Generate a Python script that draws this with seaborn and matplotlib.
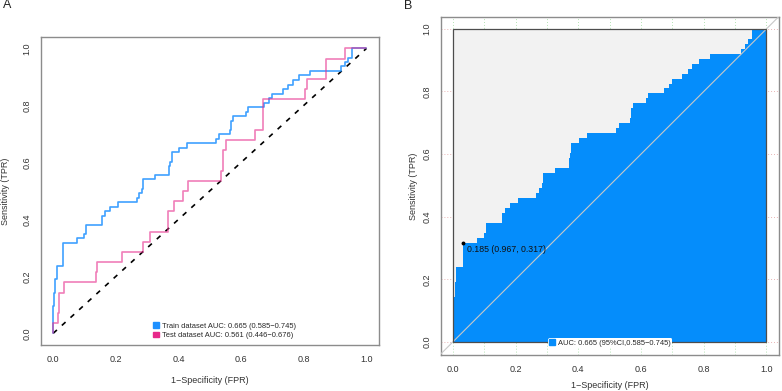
import matplotlib
matplotlib.use("Agg")
import matplotlib.pyplot as plt
import seaborn as sns
import pandas as pd
import numpy as np
from matplotlib.patches import Rectangle, Patch

# ---------------- data (ROC staircase vertices) ----------------
train_fpr = [0, 0, 0.003, 0.003, 0.007, 0.007, 0.011, 0.011, 0.032, 0.032, 0.077, 0.077,
             0.099, 0.099, 0.106, 0.106, 0.156, 0.156, 0.166, 0.166, 0.181, 0.181, 0.206, 0.206,
             0.266, 0.266, 0.274, 0.274, 0.284, 0.284, 0.287, 0.287, 0.326, 0.326, 0.370, 0.370,
             0.373, 0.373, 0.378, 0.378, 0.402, 0.402, 0.428, 0.428, 0.521, 0.521, 0.529, 0.529,
             0.564, 0.564, 0.569, 0.569, 0.574, 0.574, 0.615, 0.615, 0.622, 0.622, 0.673, 0.673,
             0.689, 0.689, 0.700, 0.700, 0.732, 0.732, 0.750, 0.750, 0.764, 0.764, 0.785, 0.785,
             0.821, 0.821, 0.920, 0.920, 0.931, 0.931, 0.941, 0.941, 0.955, 0.955, 1.0]
train_tpr = [0, 0.095, 0.095, 0.143, 0.143, 0.190, 0.190, 0.238, 0.238, 0.317, 0.317, 0.333,
             0.333, 0.349, 0.349, 0.381, 0.381, 0.413, 0.413, 0.429, 0.429, 0.444, 0.444, 0.460,
             0.460, 0.476, 0.476, 0.492, 0.492, 0.508, 0.508, 0.540, 0.540, 0.556, 0.556, 0.587,
             0.587, 0.603, 0.603, 0.635, 0.635, 0.651, 0.651, 0.667, 0.667, 0.683, 0.683, 0.698,
             0.698, 0.714, 0.714, 0.746, 0.746, 0.762, 0.762, 0.778, 0.778, 0.794, 0.794, 0.810,
             0.810, 0.825, 0.825, 0.841, 0.841, 0.857, 0.857, 0.873, 0.873, 0.889, 0.889, 0.905,
             0.905, 0.921, 0.921, 0.937, 0.937, 0.952, 0.952, 0.968, 0.968, 1.0, 1.0]

test_fpr = [0, 0, 0.016, 0.016, 0.019, 0.019, 0.035, 0.035, 0.138, 0.138, 0.141, 0.141,
            0.221, 0.221, 0.287, 0.287, 0.310, 0.310, 0.367, 0.367, 0.385, 0.385, 0.415, 0.415,
            0.431, 0.431, 0.537, 0.537, 0.543, 0.543, 0.553, 0.553, 0.644, 0.644, 0.670, 0.670,
            0.803, 0.803, 0.809, 0.809, 0.872, 0.872, 0.931, 0.931, 1.0]
test_tpr = [0, 0.036, 0.036, 0.071, 0.071, 0.143, 0.143, 0.179, 0.179, 0.214, 0.214, 0.250,
            0.250, 0.286, 0.286, 0.321, 0.321, 0.357, 0.357, 0.429, 0.429, 0.464, 0.464, 0.500,
            0.500, 0.536, 0.536, 0.571, 0.571, 0.643, 0.643, 0.679, 0.679, 0.714, 0.714, 0.821,
            0.821, 0.857, 0.857, 0.893, 0.893, 0.964, 0.964, 1.0, 1.0]

train_label = "Train dataset AUC: 0.665 (0.585\u22120.745)"
test_label = "Test dataset AUC: 0.561 (0.446\u22120.676)"
auc_label = "AUC: 0.665 (95%CI,0.585\u22120.745)"
best_point = (0.033, 0.317)
best_text = "0.185 (0.967, 0.317)"
ticks = [0.0, 0.2, 0.4, 0.6, 0.8, 1.0]
tick_labels = ["0.0", "0.2", "0.4", "0.6", "0.8", "1.0"]

# ---------------- style ----------------
sns.set_style("white")
plt.rcParams['font.family'] = ['Liberation Sans', 'DejaVu Sans']
plt.rcParams['axes.linewidth'] = 1.0

c_train = "#1E90FF"
c_test = "#E7298A"
c_fill = "#058DFB"

fig = plt.figure(figsize=(7.82, 3.91), dpi=100)

# ---------------- Panel A ----------------
axA = fig.add_axes([41/782, 1-345/391, 338/782, 308/391])
dfA = pd.DataFrame({"fpr": train_fpr, "tpr": train_tpr})
dfB = pd.DataFrame({"fpr": test_fpr, "tpr": test_tpr})
axA.plot([0, 1], [0, 1], ls=(0, (3, 4)), color="black", lw=1.2, zorder=2)
sns.lineplot(data=dfA, x="fpr", y="tpr", sort=False, estimator=None, ax=axA,
             color=c_train, lw=1.2, alpha=0.85, zorder=3)
sns.lineplot(data=dfB, x="fpr", y="tpr", sort=False, estimator=None, ax=axA,
             color=c_test, lw=1.2, alpha=0.6, zorder=4)
axA.set_xlim(-0.039, 1.04)
axA.set_ylim(-0.041, 1.04)
axA.set_xticks(ticks)
axA.set_xticklabels(tick_labels)
axA.set_yticks(ticks)
axA.set_yticklabels(tick_labels, rotation=90, va="center")
for s in axA.spines.values():
    s.set_color("#8C8C8C")
axA.tick_params(axis="both", labelsize=6.5, colors="#D0D0D0", labelcolor="#333333",
                length=3, width=0.6, direction="out", pad=4)
axA.set_xlabel("1\u2212Specificity (FPR)", fontsize=6.5, color="#333333", labelpad=9)
axA.set_ylabel("Sensitivity (TPR)", fontsize=6.5, color="#333333", labelpad=9)
h = [Patch(color=c_train, label=train_label), Patch(color=c_test, label=test_label)]
axA.legend(handles=h, loc="lower left", bbox_to_anchor=(0.315, 0.0), frameon=False,
           fontsize=5.4, handlelength=0.8, handleheight=0.8, handletextpad=0.4,
           labelspacing=0.25, borderpad=0.3)
fig.text(3/782, 1-5/391, "A", fontsize=9, va="center", ha="left", color="#222222")

# ---------------- Panel B ----------------
axB = fig.add_axes([441/782, 1-355/391, 338/782, 338/391])
axB.set_xlim(-0.038, 1.04)
axB.set_ylim(-0.042, 1.038)
for v in np.arange(0, 1.01, 0.1):
    axB.axvline(v, color="#B5E3B5", lw=0.7, ls=(0, (1, 2)), zorder=0)
for v in ticks:
    axB.axhline(v, color="#E8B5B5", lw=0.7, ls=(0, (1, 2)), zorder=0)
axB.add_patch(Rectangle((0, 0), 1, 1, facecolor="#F2F2F2", edgecolor="none", zorder=1))
axB.fill_between(train_fpr, train_tpr, 0, color=c_fill, lw=0, zorder=2)
axB.add_patch(Rectangle((0, 0), 1, 1, facecolor="none", edgecolor="#4D4D4D", lw=0.9, zorder=4))
axB.plot([-0.05, 1.05], [-0.05, 1.05], color="#C8C8C8", lw=0.8, zorder=3)
axB.plot([best_point[0]], [best_point[1]], marker="o", ms=1.8, color="black", zorder=5)
axB.annotate(best_text, best_point, xytext=(3, -7), textcoords="offset points",
             fontsize=6.3, color="#111111", zorder=6)
axB.set_xticks(ticks)
axB.set_xticklabels(tick_labels)
axB.set_yticks(ticks)
axB.set_yticklabels(tick_labels, rotation=90, va="center")
for s in axB.spines.values():
    s.set_color("#8C8C8C")
axB.tick_params(axis="both", labelsize=6.5, colors="#D0D0D0", labelcolor="#333333",
                length=3, width=0.6, direction="out", pad=4)
axB.set_xlabel("1\u2212Specificity (FPR)", fontsize=6.5, color="#333333", labelpad=5)
axB.set_ylabel("Sensitivity (TPR)", fontsize=6.5, color="#333333", labelpad=3)
legB = axB.legend(handles=[Patch(color=c_fill, label=auc_label)], loc="center",
                  bbox_to_anchor=(0.5, 12/338), frameon=True, facecolor="white",
                  edgecolor="none", framealpha=1, fontsize=5.4, handlelength=0.8,
                  handleheight=0.8, handletextpad=0.4, borderpad=0.15)
legB.set_zorder(7)
fig.text(404/782, 1-6/391, "B", fontsize=9, va="center", ha="left", color="#222222")

fig.savefig("out.png", dpi=100)
